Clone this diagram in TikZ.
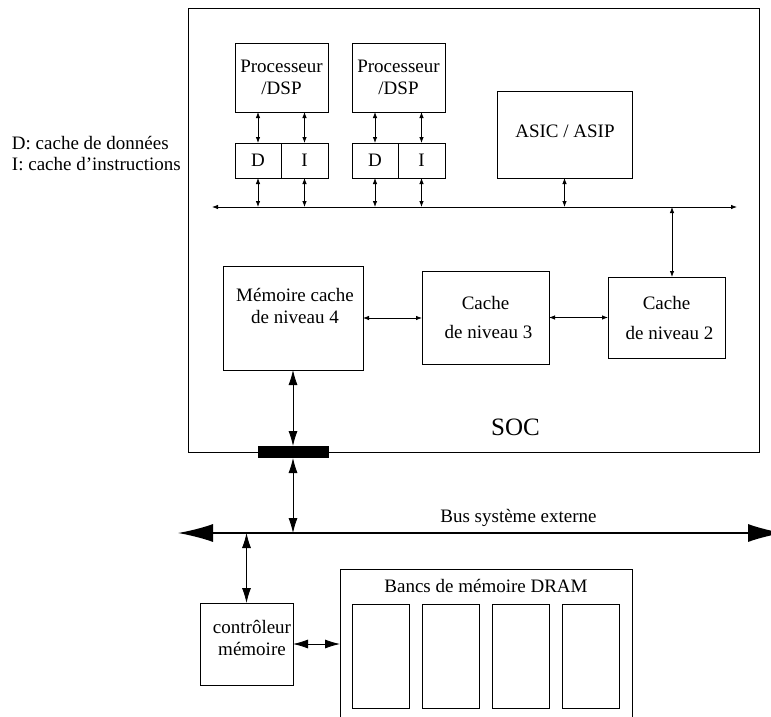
\documentclass[tikz,border=0pt]{standalone}
\usepackage{fontspec}
\setmainfont{Liberation Serif}
\usetikzlibrary{arrows.meta}
\begin{document}
\begin{tikzpicture}[x=1pt, y=-1pt,
  every node/.style={font=\fontsize{19}{22}\selectfont, inner sep=0pt, outer sep=0pt},
  box/.style={draw, line width=0.8pt, anchor=north west, align=center},
  sa/.style={line width=0.8pt, >={Latex[length=6pt,width=4.5pt]}, <->},
  ma/.style={line width=0.8pt, >={Latex[length=15pt,width=9pt]}, <->},
  ba/.style={line width=1.4pt, >={Latex[length=35pt,width=18pt]}, <->},
  txt/.style={align=center}]
\useasboundingbox (0,0) rectangle (771,717);
% SOC
\node[box, minimum width=571, minimum height=444] (soc) at (188,8) {};
\node[anchor=base, font=\fontsize{25}{28}\selectfont] (soct) at (515.5,435) {SOC};
% legend
\node[anchor=base west] (leg1) at (12,149) {D: cache de données};
\node[anchor=base west] (leg2) at (12,170) {I: cache d’instructions};
% processors
\node[box, minimum width=93, minimum height=69] (proc1) at (235,43) {Processeur\\/DSP};
\node[box, minimum width=93, minimum height=69] (proc2) at (352,43) {Processeur\\/DSP};
\node[box, minimum width=46, minimum height=35] (d1) at (235,143) {D};
\node[box, minimum width=47, minimum height=35] (i1) at (281,143) {I};
\node[box, minimum width=46, minimum height=35] (d2) at (352,143) {D};
\node[box, minimum width=47, minimum height=35] (i2) at (398,143) {I};
\node[box, minimum width=135, minimum height=87] (asic) at (497,91) {};
\node[anchor=base] (asict) at (565,137) {ASIC / ASIP};
% internal bus
\coordinate (busL) at (212,207);
\coordinate (busR) at (737,207);
\draw[sa] (busL) -- (busR);
\foreach \c/\p in {d1/proc1, i1/proc1, d2/proc2, i2/proc2}{
  \draw[sa] (\p.south -| \c.north) -- (\c.north);
  \draw[sa] (\c.south) -- (\c.south |- busL);
}
\draw[sa] (asic.south) -- (asic.south |- busL);
% caches
\node[box, minimum width=140, minimum height=104] (mem4) at (223,266) {};
\node[txt] (mem4t) at (295,306) {Mémoire cache\\de niveau 4};
\node[box, minimum width=127, minimum height=93] (cache3) at (422,271) {Cache\\[7pt]\hspace*{6pt}de niveau 3};
\node[box, minimum width=117, minimum height=81] (cache2) at (608,277) {Cache\\[8pt]\hspace*{6pt}de niveau 2};
\coordinate (c2top) at ([xshift=5.5pt]cache2.north);
\draw[sa] (c2top |- busL) -- (c2top);
\draw[sa] (mem4.east) -- (mem4.east -| cache3.west);
\draw[sa] (cache3.east) -- (cache3.east -| cache2.west);
% connector bar and external bus
\node[fill=black, minimum width=71, minimum height=12] (bar) at (293.5,452) {};
\coordinate (extL) at (178,533);
\coordinate (extR) at (783,533);
\draw[ma] (mem4.south) -- (mem4.south |- bar.north);
\draw[ma] (mem4.south |- bar.south) -- (mem4.south |- extL);
\draw[ba] (extL) -- (extR);
\node[anchor=base] (bust) at (518.5,522) {Bus système externe};
% memory controller and DRAM
\node[box, minimum width=93, minimum height=82] (ctrl) at (200,603) {};
\node[txt] (ctrlt) at (252,638) {contrôleur\\mémoire};
\node[box, minimum width=292, minimum height=175] (dram) at (340,569) {};
\node[anchor=base] (dramt) at (486,592) {Bancs de mémoire DRAM};
\node[box, minimum width=57, minimum height=104] (b1) at (352,604) {};
\node[box, minimum width=57, minimum height=104] (b2) at (422,604) {};
\node[box, minimum width=57, minimum height=104] (b3) at (492,604) {};
\node[box, minimum width=57, minimum height=104] (b4) at (562,604) {};
\draw[ma] (ctrl.north |- extL) -- (ctrl.north);
\draw[ma] (ctrl.east) -- (ctrl.east -| dram.west);
\end{tikzpicture}
\end{document}
